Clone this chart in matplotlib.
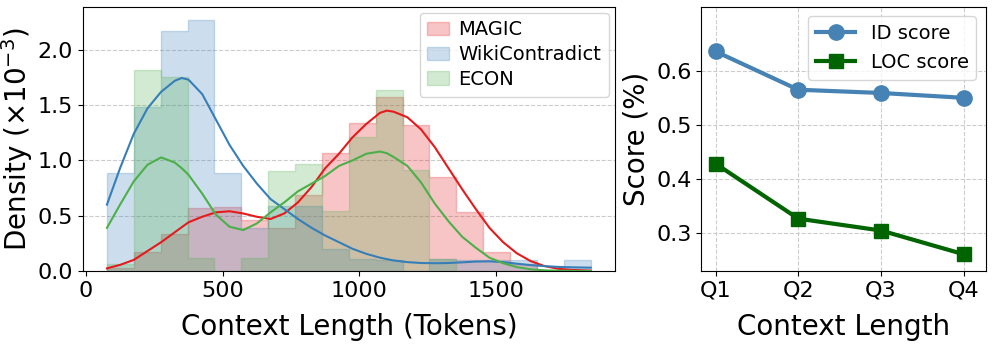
import matplotlib.pyplot as plt
import numpy as np

# histogram bins (tokens), shared by all three datasets
bin_edges = np.linspace(77, 1845, 19)

# bin densities, in units of 1e-3
magic_hist = [0.03, 0.17, 0.334, 0.566, 0.575, 0.46, 0.385, 0.69, 1.07,
              1.34, 1.57, 1.32, 0.85, 0.53, 0.17, 0.06, 0.0, 0.0]
wiki_hist = [0.885, 1.48, 2.17, 2.27, 0.885, 0.39, 0.59, 0.59, 0.2,
             0.105, 0.1, 0.0, 0.11, 0.1, 0.1, 0.1, 0.0, 0.1]
econ_hist = [0.06, 1.82, 1.755, 0.115, 0.0, 0.115, 0.905, 0.967, 0.54,
             1.21, 1.635, 0.91, 0.11, 0.0, 0.0, 0.0, 0.0, 0.0]

# kde curves
kde_x = [77, 125, 175, 225, 275, 325, 350, 375, 425, 475, 525, 575, 625, 675,
         725, 775, 825, 875, 925, 975, 1025, 1075, 1100, 1125, 1175, 1225,
         1275, 1325, 1375, 1425, 1475, 1525, 1575, 1625, 1675, 1725, 1775, 1845]
magic_kde = [0.024, 0.055, 0.10, 0.18, 0.26, 0.35, 0.395, 0.44, 0.49, 0.53,
             0.54, 0.52, 0.49, 0.47, 0.52, 0.62, 0.76, 0.93, 1.06, 1.21,
             1.33, 1.43, 1.45, 1.44, 1.39, 1.28, 1.12, 0.93, 0.74, 0.56,
             0.39, 0.26, 0.16, 0.09, 0.045, 0.02, 0.01, 0.003]
wiki_kde = [0.60, 0.93, 1.24, 1.47, 1.62, 1.72, 1.745, 1.73, 1.60, 1.37,
            1.14, 0.95, 0.79, 0.65, 0.56, 0.47, 0.39, 0.32, 0.26, 0.20,
            0.155, 0.12, 0.107, 0.095, 0.08, 0.072, 0.07, 0.072, 0.078,
            0.085, 0.087, 0.08, 0.066, 0.053, 0.044, 0.037, 0.033, 0.03]
econ_kde = [0.39, 0.60, 0.81, 0.96, 1.027, 0.98, 0.93, 0.87, 0.70, 0.51,
            0.40, 0.37, 0.43, 0.53, 0.62, 0.72, 0.79, 0.86, 0.95, 1.00,
            1.06, 1.08, 1.065, 1.03, 0.95, 0.80, 0.61, 0.45, 0.31, 0.21,
            0.12, 0.07, 0.035, 0.015, 0.006, 0.002, 0.001, 0.0]

# right panel
quartiles = ['Q1', 'Q2', 'Q3', 'Q4']
id_score = [0.637, 0.566, 0.560, 0.551]
loc_score = [0.429, 0.327, 0.305, 0.261]

fig, (ax1, ax2) = plt.subplots(1, 2, figsize=(9.97, 3.51), dpi=100,
                               gridspec_kw={'width_ratios': [1.87, 1]})
fig.subplots_adjust(left=0.083, right=0.989, top=0.981, bottom=0.228, wspace=0.212)

series = [('MAGIC', magic_hist, magic_kde, '#e41a1c'),
          ('WikiContradict', wiki_hist, wiki_kde, '#377eb8'),
          ('ECON', econ_hist, econ_kde, '#4daf4a')]
for name, h, k, c in series:
    ax1.stairs(h, bin_edges, fill=True, facecolor=c, edgecolor=c, alpha=0.25,
               lw=1, label=name)
for name, h, k, c in series:
    ax1.plot(kde_x, k, color=c, lw=1.5)

span = bin_edges[-1] - bin_edges[0]
ax1.set_xlim(bin_edges[0] - 0.05 * span, bin_edges[-1] + 0.05 * span)
ax1.set_ylim(0, 2.39)
ax1.set_xticks([0, 500, 1000, 1500])
ax1.set_yticks([0.0, 0.5, 1.0, 1.5, 2.0])
ax1.set_xlabel('Context Length (Tokens)', fontsize=20, labelpad=9)
ax1.set_ylabel(r'Density ($\times10^{-3}$)', fontsize=20, labelpad=2)
ax1.tick_params(labelsize=16)
ax1.grid(axis='y', linestyle='--', color='#cccccc', lw=0.8)
ax1.set_axisbelow(True)
ax1.legend(loc='upper right', fontsize=14, borderaxespad=0.3,
           handlelength=1.1, handletextpad=0.5, labelspacing=0.3)

x = np.arange(len(quartiles))
ax2.plot(x, id_score, color='steelblue', marker='o', lw=3, ms=11, label='ID score')
ax2.plot(x, loc_score, color='darkgreen', marker='s', lw=3, ms=10, label='LOC score')
ax2.set_xticks(x)
ax2.set_xticklabels(quartiles)
ax2.set_xlim(-0.17, 3.27)
ax2.set_ylim(0.23, 0.72)
ax2.set_yticks([0.3, 0.4, 0.5, 0.6])
ax2.set_xlabel('Context Length', fontsize=20, labelpad=9)
ax2.set_ylabel('Score (%)', fontsize=20)
ax2.tick_params(labelsize=16)
ax2.grid(True, linestyle='--', color='#cccccc', lw=0.8)
ax2.legend(loc='upper right', fontsize=14)

plt.savefig('out.png')
